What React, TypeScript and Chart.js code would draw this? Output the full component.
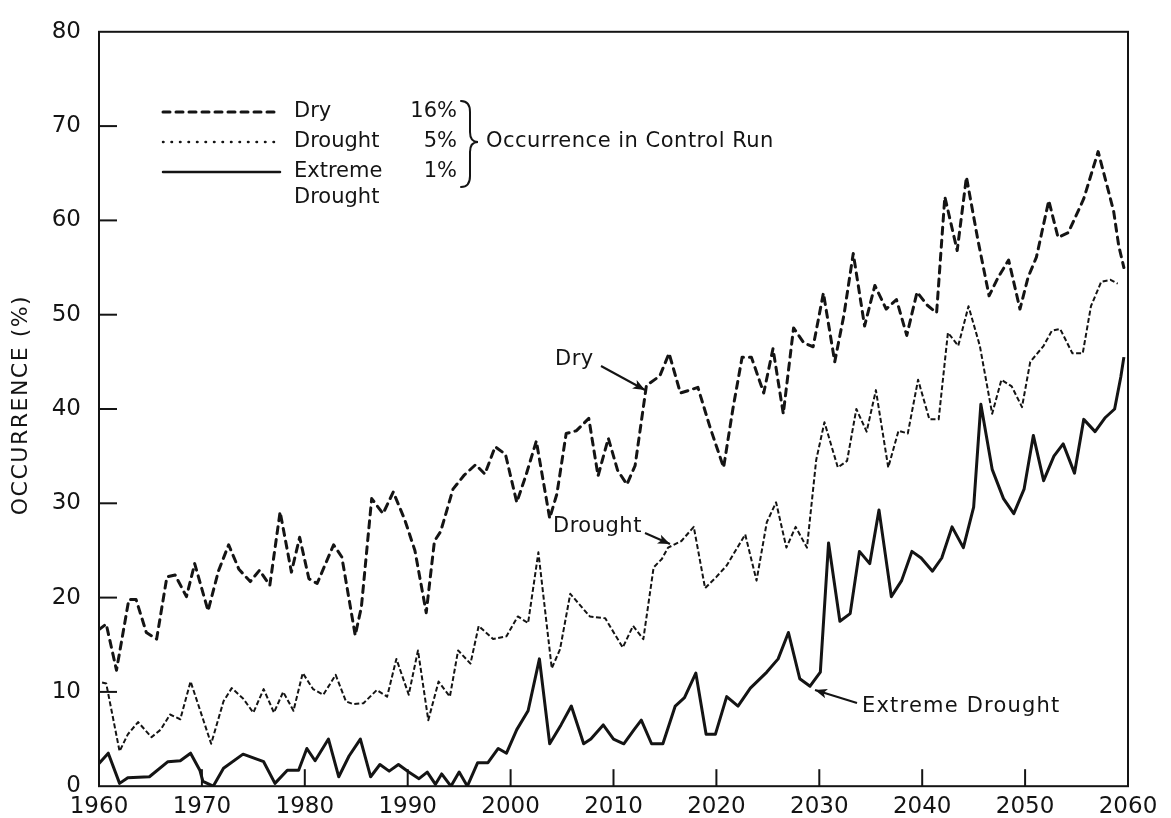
import React, { useEffect, useRef } from "react";
import { Chart, registerables } from "chart.js";

Chart.register(...registerables);

// ---------- data ----------
const dryYears = [
  1960.0, 1960.7, 1961.7, 1962.9, 1963.6, 1964.6, 1965.6, 1966.6, 1967.4, 1968.5,
  1969.3, 1970.6, 1971.6, 1972.6, 1973.6, 1974.7, 1975.6, 1976.6, 1977.6, 1978.7,
  1979.5, 1980.4, 1981.2, 1982.8, 1983.6, 1984.9, 1985.5, 1986.5, 1987.6, 1988.6,
  1989.7, 1990.7, 1991.8, 1992.6, 1993.2, 1994.4, 1995.5, 1996.6, 1997.5, 1998.5,
  1999.5, 2000.6, 2001.5, 2002.5, 2003.8, 2004.5, 2005.4, 2006.4, 2007.6, 2008.5,
  2009.5, 2010.4, 2011.3, 2012.1, 2013.2, 2014.5, 2015.4, 2016.5, 2017.4, 2018.2,
  2019.4, 2020.7, 2021.6, 2022.5, 2023.4, 2024.6, 2025.5, 2026.5, 2027.5, 2028.5,
  2029.4, 2030.4, 2031.5, 2032.4, 2033.3, 2034.4, 2035.4, 2036.5, 2037.5, 2038.5,
  2039.5, 2040.5, 2041.4, 2042.2, 2043.4, 2044.3, 2045.4, 2046.5, 2047.4, 2048.4,
  2049.5, 2050.3, 2051.1, 2052.3, 2053.2, 2054.2, 2055.7, 2057.1, 2058.6, 2059.1,
  2059.6,
];
const dryValues = [
  16.6, 17.2, 12.3, 19.8, 19.8, 16.3, 15.6, 22.2, 22.4, 20.1,
  23.6, 18.6, 22.8, 25.6, 23.0, 21.7, 22.9, 21.3, 29.1, 22.7,
  26.4, 22.0, 21.5, 25.6, 24.3, 16.0, 19.0, 30.5, 28.9, 31.2,
  28.3, 25.0, 18.4, 26.0, 27.0, 31.5, 33.0, 34.1, 33.1, 36.0,
  35.2, 30.1, 33.0, 36.6, 28.4, 31.0, 37.4, 37.7, 39.0, 32.9,
  36.9, 33.5, 32.0, 34.0, 42.5, 43.5, 45.9, 41.7, 42.0, 42.3,
  38.0, 33.8, 40.0, 45.5, 45.5, 41.7, 46.4, 39.5, 48.6, 47.0,
  46.6, 52.3, 45.0, 50.0, 56.5, 48.8, 53.1, 50.6, 51.6, 47.8,
  52.4, 51.0, 50.2, 62.5, 56.8, 64.6, 58.0, 52.0, 54.0, 55.8,
  50.6, 54.0, 56.1, 62.1, 58.2, 58.7, 62.3, 67.3, 61.0, 57.3,
  55.0,
];

const droughtYears = [
  1960.3, 1960.7, 1962.0, 1962.8, 1963.8, 1965.1, 1966.0, 1966.9, 1967.9, 1968.9,
  1970.9, 1972.1, 1972.9, 1974.0, 1975.0, 1976.0, 1977.0, 1977.9, 1978.9, 1979.8,
  1980.8, 1981.8, 1983.0, 1984.0, 1984.7, 1985.7, 1987.0, 1988.0, 1988.9, 1990.1,
  1991.0, 1992.0, 1993.0, 1994.1, 1994.9, 1996.1, 1996.9, 1998.3, 1999.6, 2000.7,
  2001.7, 2002.7, 2004.0, 2004.8, 2005.8, 2007.7, 2009.2, 2010.9, 2011.9, 2012.9,
  2013.9, 2014.7, 2015.3, 2016.6, 2017.8, 2018.9, 2020.0, 2021.0, 2022.8, 2023.9,
  2024.9, 2025.8, 2026.8, 2027.7, 2028.8, 2029.7, 2030.5, 2031.8, 2032.7, 2033.6,
  2034.6, 2035.5, 2036.7, 2037.7, 2038.6, 2039.6, 2040.7, 2041.6, 2042.5, 2043.5,
  2044.5, 2045.6, 2046.8, 2047.7, 2048.7, 2049.7, 2050.5, 2051.8, 2052.6, 2053.4,
  2054.6, 2055.6, 2056.4, 2057.4, 2058.3, 2059.0,
];
const droughtValues = [
  11.0, 10.9, 3.7, 5.5, 6.8, 5.2, 6.0, 7.6, 7.1, 11.1,
  4.5, 9.0, 10.4, 9.3, 7.8, 10.3, 7.8, 10.0, 8.0, 12.0,
  10.3, 9.7, 11.8, 9.0, 8.7, 8.8, 10.2, 9.5, 13.5, 9.7,
  14.4, 7.0, 11.1, 9.5, 14.4, 13.0, 17.0, 15.6, 15.9, 18.0,
  17.3, 24.8, 12.5, 14.5, 20.4, 18.0, 17.8, 14.7, 17.0, 15.6,
  23.2, 24.1, 25.3, 26.0, 27.5, 21.0, 22.2, 23.4, 26.7, 21.8,
  28.0, 30.1, 25.3, 27.5, 25.3, 34.6, 38.6, 33.8, 34.5, 40.0,
  37.6, 42.0, 33.8, 37.7, 37.4, 43.1, 38.9, 38.9, 48.1, 46.7,
  50.9, 46.7, 39.5, 43.1, 42.4, 40.2, 45.0, 46.7, 48.3, 48.5,
  45.9, 45.9, 50.9, 53.5, 53.7, 53.3,
];

const extremeYears = [
  1960.0, 1960.9, 1962.0, 1962.8, 1964.9, 1966.7, 1967.9, 1968.9, 1969.8, 1970.1,
  1971.1, 1972.1, 1974.0, 1976.0, 1977.1, 1978.3, 1979.4, 1980.2, 1981.0, 1982.3,
  1983.3, 1984.3, 1985.4, 1986.4, 1987.3, 1988.2, 1989.1, 1990.1, 1991.1, 1991.9,
  1992.7, 1993.3, 1994.2, 1995.0, 1995.8, 1996.8, 1997.8, 1998.8, 1999.6, 2000.6,
  2001.7, 2002.8, 2003.8, 2004.9, 2005.9, 2007.1, 2007.8, 2009.0, 2010.0, 2011.0,
  2012.0, 2012.7, 2013.7, 2014.8, 2016.0, 2016.9, 2018.0, 2019.0, 2019.9, 2021.0,
  2022.1, 2023.3, 2024.9, 2026.0, 2027.0, 2028.1, 2029.1, 2030.1, 2030.9, 2032.0,
  2033.0, 2033.9, 2034.9, 2035.8, 2037.0, 2038.0, 2039.0, 2039.9, 2041.0, 2041.9,
  2042.9, 2044.0, 2045.0, 2045.7, 2046.8, 2047.9, 2048.9, 2049.9, 2050.8, 2051.8,
  2052.8, 2053.7, 2054.8, 2055.7, 2056.8, 2057.8, 2058.7, 2059.3, 2059.6,
];
const extremeValues = [
  2.4, 3.5, 0.3, 0.9, 1.0, 2.6, 2.7, 3.5, 1.7, 0.5,
  0.0, 1.9, 3.4, 2.6, 0.3, 1.7, 1.7, 4.0, 2.7, 5.0,
  1.0, 3.2, 5.0, 1.0, 2.3, 1.6, 2.3, 1.5, 0.8, 1.5,
  0.2, 1.3, 0.0, 1.5, 0.0, 2.5, 2.5, 4.0, 3.5, 6.0,
  8.0, 13.5, 4.5, 6.5, 8.5, 4.5, 5.0, 6.5, 5.0, 4.5,
  6.0, 7.0, 4.5, 4.5, 8.5, 9.4, 12.0, 5.5, 5.5, 9.5,
  8.5, 10.4, 12.1, 13.5, 16.3, 11.4, 10.6, 12.1, 25.8, 17.5,
  18.3, 24.9, 23.6, 29.3, 20.1, 21.8, 24.9, 24.2, 22.8, 24.2,
  27.5, 25.3, 29.6, 40.5, 33.6, 30.5, 28.9, 31.5, 37.2, 32.4,
  35.0, 36.3, 33.2, 38.9, 37.6, 39.1, 40.0, 43.4, 45.5,
];

const xMin = 1960;
const xMax = 2060;
const xStep = 10;
const yMin = 0;
const yMax = 80;
const yStep = 10;

const yAxisTitle = "OCCURRENCE (%)";
const legendNames = ["Dry", "Drought", "Extreme"];
const legendNameSecondLine = "Drought";
const legendPercents = ["16%", "5%", "1%"];
const legendNote = "Occurrence in Control Run";
const labelDry = "Dry";
const labelDrought = "Drought";
const labelExtreme = "Extreme Drought";

// ---------- styling ----------
const FONT = "'DejaVu Sans', 'Noto Sans', sans-serif";
const INK = "#141414";

const toPoints = (xs: number[], ys: number[]) => xs.map((x, i) => ({ x, y: ys[i] }));

function arrow(ctx: CanvasRenderingContext2D, x1: number, y1: number, x2: number, y2: number) {
  ctx.save();
  ctx.strokeStyle = INK;
  ctx.fillStyle = INK;
  ctx.lineWidth = 2;
  ctx.setLineDash([]);
  ctx.beginPath();
  ctx.moveTo(x1, y1);
  ctx.lineTo(x2, y2);
  ctx.stroke();
  const a = Math.atan2(y2 - y1, x2 - x1);
  const L = 13;
  const w = 0.38;
  ctx.beginPath();
  ctx.moveTo(x2, y2);
  ctx.lineTo(x2 - L * Math.cos(a - w), y2 - L * Math.sin(a - w));
  ctx.lineTo(x2 - L * 0.7 * Math.cos(a), y2 - L * 0.7 * Math.sin(a));
  ctx.lineTo(x2 - L * Math.cos(a + w), y2 - L * Math.sin(a + w));
  ctx.closePath();
  ctx.fill();
  ctx.restore();
}

const decorPlugin = {
  id: "decor",
  afterDraw(chart: any) {
    const ctx: CanvasRenderingContext2D = chart.ctx;
    const { left, right, top, bottom } = chart.chartArea;
    const xs = chart.scales.x;
    const ys = chart.scales.y;
    ctx.save();
    // frame
    ctx.strokeStyle = INK;
    ctx.lineWidth = 2;
    ctx.setLineDash([]);
    ctx.strokeRect(left, top, right - left, bottom - top);
    // inward ticks
    ctx.lineWidth = 2;
    xs.ticks.forEach((t: any) => {
      if (t.value <= xMin || t.value >= xMax) return;
      const px = xs.getPixelForValue(t.value);
      ctx.beginPath();
      ctx.moveTo(px, bottom);
      ctx.lineTo(px, bottom - 17);
      ctx.stroke();
    });
    ys.ticks.forEach((t: any) => {
      if (t.value <= yMin || t.value >= yMax) return;
      const py = ys.getPixelForValue(t.value);
      ctx.beginPath();
      ctx.moveTo(left, py);
      ctx.lineTo(left + 18, py);
      ctx.stroke();
    });

    // y axis title
    ctx.fillStyle = INK;
    ctx.save();
    ctx.translate(21, 405);
    ctx.rotate(-Math.PI / 2);
    (ctx as any).letterSpacing = "1.5px";
    ctx.font = `22px ${FONT}`;
    ctx.textAlign = "center";
    ctx.textBaseline = "middle";
    ctx.fillText(yAxisTitle, 0, 0);
    ctx.restore();

    // legend samples
    const sx1 = 163;
    const sx2 = 280;
    const rows = [112, 142, 172];
    ctx.lineCap = "round";
    ctx.lineWidth = 3;
    ctx.setLineDash([7, 6]);
    ctx.beginPath();
    ctx.moveTo(sx1, rows[0]);
    ctx.lineTo(sx2, rows[0]);
    ctx.stroke();
    ctx.lineWidth = 2.5;
    ctx.setLineDash([0.5, 8]);
    ctx.beginPath();
    ctx.moveTo(sx1, rows[1]);
    ctx.lineTo(sx2, rows[1]);
    ctx.stroke();
    ctx.lineWidth = 2.5;
    ctx.setLineDash([]);
    ctx.beginPath();
    ctx.moveTo(sx1, rows[2]);
    ctx.lineTo(sx2, rows[2]);
    ctx.stroke();

    ctx.font = `21px ${FONT}`;
    ctx.textBaseline = "middle";
    ctx.textAlign = "left";
    legendNames.forEach((n, i) => ctx.fillText(n, 294, rows[i]));
    ctx.fillText(legendNameSecondLine, 294, 198);
    ctx.textAlign = "right";
    legendPercents.forEach((p, i) => ctx.fillText(p, 457, rows[i]));

    // brace
    ctx.lineWidth = 2;
    ctx.beginPath();
    ctx.moveTo(461, 101);
    ctx.quadraticCurveTo(470, 101, 470, 112);
    ctx.lineTo(470, 132);
    ctx.quadraticCurveTo(470, 142, 478, 142);
    ctx.quadraticCurveTo(470, 142, 470, 152);
    ctx.lineTo(470, 176);
    ctx.quadraticCurveTo(470, 187, 461, 187);
    ctx.stroke();

    ctx.textAlign = "left";
    (ctx as any).letterSpacing = "0.5px";
    ctx.fillText(legendNote, 486, 142);

    // annotations
    (ctx as any).letterSpacing = "0.5px";
    ctx.fillText(labelDry, 555, 360);
    ctx.fillText(labelDrought, 553, 527);
    (ctx as any).letterSpacing = "1.2px";
    ctx.fillText(labelExtreme, 862, 707);
    (ctx as any).letterSpacing = "0px";
    ctx.restore();

    arrow(ctx, 601, 366, 645, 390);
    arrow(ctx, 645, 533, 670, 544);
    arrow(ctx, 857, 703, 815, 690);
  },
};

export default function App() {
  const ref = useRef<HTMLCanvasElement | null>(null);

  useEffect(() => {
    document.body.style.margin = "0";
    const canvas = ref.current;
    if (!canvas) return;
    const chart = new Chart(canvas, {
      type: "line",
      data: {
        datasets: [
          {
            label: "Dry",
            data: toPoints(dryYears, dryValues),
            borderColor: INK,
            borderWidth: 3,
            borderDash: [7, 6],
            borderCapStyle: "round",
            borderJoinStyle: "round",
            pointRadius: 0,
            tension: 0,
            fill: false,
          },
          {
            label: "Drought",
            data: toPoints(droughtYears, droughtValues),
            borderColor: INK,
            borderWidth: 2,
            borderDash: [5, 2.5],
            borderJoinStyle: "round",
            pointRadius: 0,
            tension: 0,
            fill: false,
          },
          {
            label: "Extreme Drought",
            data: toPoints(extremeYears, extremeValues),
            borderColor: INK,
            borderWidth: 3,
            borderJoinStyle: "round",
            pointRadius: 0,
            tension: 0,
            fill: false,
          },
        ],
      },
      options: {
        animation: false,
        responsive: false,
        maintainAspectRatio: false,
        layout: { padding: { left: 0, right: 43, top: 16, bottom: 0 } },
        plugins: { legend: { display: false }, tooltip: { enabled: false } },
        scales: {
          x: {
            type: "linear",
            min: xMin,
            max: xMax,
            grid: { display: false, drawTicks: false },
            border: { display: false },
            ticks: {
              stepSize: xStep,
              autoSkip: false,
              maxRotation: 0,
              padding: 7,
              color: INK,
              font: { family: FONT, size: 23 },
              callback: (v: any) => String(v),
            },
            afterFit: (s: any) => {
              s.height = 31;
            },
          },
          y: {
            type: "linear",
            min: yMin,
            max: yMax,
            grid: { display: false, drawTicks: false },
            border: { display: false },
            ticks: {
              stepSize: yStep,
              padding: 18,
              color: INK,
              font: { family: FONT, size: 23 },
              callback: (v: any) => String(v),
            },
            afterFit: (s: any) => {
              s.width = 99;
            },
          },
        },
      },
      plugins: [decorPlugin],
    } as any);
    return () => chart.destroy();
  }, []);

  return (
    <div style={{ width: 1171, height: 818, background: "#fff" }}>
      <canvas ref={ref} width={1171} height={818} style={{ display: "block" }} />
    </div>
  );
}
